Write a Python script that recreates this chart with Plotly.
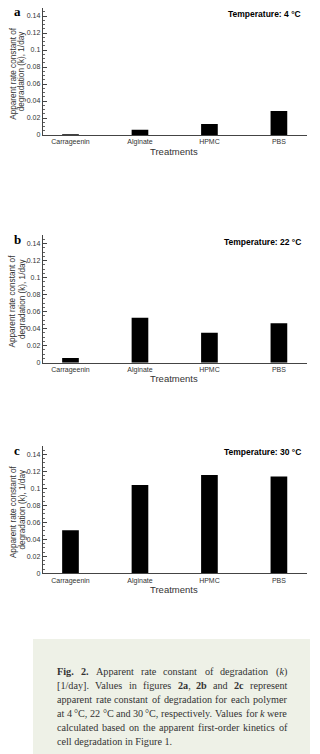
import re
import plotly.graph_objects as go

treatments = ["Carrageenin", "Alginate", "HPMC", "PBS"]
k_4C = [0.001, 0.0062, 0.013, 0.0283]
k_22C = [0.0055, 0.053, 0.0353, 0.0464]
k_30C = [0.0506, 0.1039, 0.1157, 0.114]
panel_letters = ["a", "b", "c"]
temp_labels = ["Temperature: 4 °C", "Temperature: 22 °C", "Temperature: 30 °C"]
y_ticks = [0, 0.02, 0.04, 0.06, 0.08, 0.1, 0.12, 0.14]
y_tick_text = ["0", "0.02", "0.04", "0.06", "0.08", "0.1", "0.12", "0.14"]
y_title_lines = ["Apparent rate constant of", "degradation (k), 1/day"]
caption_lines = [
    "<b>Fig.</b> <b>2.</b> Apparent rate constant of degradation (<i>k</i>)",
    "[1/day]. Values in figures <b>2a</b>, <b>2b</b> and <b>2c</b> represent",
    "apparent rate constant of degradation for each polymer",
    "at 4 °C, 22 °C and 30 °C, respectively. Values for <i>k</i> were",
    "calculated based on the apparent first-order kinetics of",
    "cell degradation in Figure 1.",
]

W, H = 320, 754
def py(y):
    return 1 - y / H
def px(x):
    return x / W

# Times / Liberation Serif advance widths (per 1000 em), used to justify caption lines
TW = {' ': 250, '(': 333, ')': 333, ',': 250, '-': 333, '.': 250, '/': 278, '[': 333, ']': 333,
      '°': 400, 'A': 722, 'C': 667, 'F': 556, 'V': 722, 'a': 444, 'b': 500, 'c': 444, 'd': 500,
      'e': 444, 'f': 333, 'g': 500, 'h': 500, 'i': 278, 'k': 500, 'l': 278, 'm': 778, 'n': 500,
      'o': 500, 'p': 500, 'r': 333, 's': 389, 't': 278, 'u': 500, 'v': 500, 'w': 722, 'y': 500,
      'x': 500}
TB = {'F': 611, 'a': 500, 'b': 556, 'c': 444, 'i': 278, 'g': 500, '.': 250}
TI = {'k': 444}

def word_width(word, size):
    w = 0
    bold = ital = False
    for tok in re.split(r"(<[^>]+>)", word):
        if tok.startswith("<"):
            bold = {"<b>": True, "</b>": False}.get(tok, bold)
            ital = {"<i>": True, "</i>": False}.get(tok, ital)
            continue
        for ch in tok:
            if ch.isdigit():
                w += 500
            elif bold and ch in TB:
                w += TB[ch]
            elif ital and ch in TI:
                w += TI[ch]
            else:
                w += TW.get(ch, 500)
    return w * size / 1000.0

series = [k_4C, k_22C, k_30C]
zero_y = [135.0, 362.7, 573.3]
px_per_unit = 17.0 / 0.02
ymax = 0.15
x0, x1 = 42.7, 306.7

fig = go.Figure()
ann = []
sans = "Liberation Sans, Arial, sans-serif"
serif = "Liberation Serif, Times New Roman, serif"

def add_text(x, y, text, font, xanchor="center", **kw):
    ann.append(dict(x=px(x), y=py(y), xref="paper", yref="paper", text=text, showarrow=False,
                    xanchor=xanchor, yanchor="middle", font=font, **kw))

for i, vals in enumerate(series):
    n = "" if i == 0 else str(i + 1)
    z = zero_y[i]
    top = z - ymax * px_per_unit
    fig.add_trace(go.Bar(x=treatments, y=vals, marker=dict(color="black", line=dict(width=0)),
                         width=0.24, xaxis="x" + n, yaxis="y" + n, showlegend=False,
                         hoverinfo="skip"))
    fig.layout["xaxis" + n] = dict(domain=[px(x0), px(x1)], anchor="y" + n, range=[-0.4, 3.4],
                                    showline=True, linecolor="#444", linewidth=1, ticks="",
                                    tickfont=dict(family=sans, size=7, color="#333"),
                                    showgrid=False, zeroline=False, fixedrange=True,
                                    automargin=False)
    fig.layout["yaxis" + n] = dict(domain=[py(z), py(top)], anchor="x" + n, range=[0, ymax],
                                    showline=True, linecolor="#444", linewidth=1,
                                    ticks="inside", ticklen=4, tickcolor="#444",
                                    tickvals=y_ticks, ticktext=y_tick_text,
                                    minor=dict(ticks="inside", ticklen=2, dtick=0.005, tickcolor="#666"),
                                    tickfont=dict(family=sans, size=7, color="#333"),
                                    showgrid=False, zeroline=False, fixedrange=True,
                                    automargin=False)
    add_text(17, top + 4.5, "<b>" + panel_letters[i] + "</b>", dict(family=serif, size=13, color="black"))
    add_text(303, top + 6.5, "<b>" + temp_labels[i] + "</b>", dict(family=sans, size=8.5, color="black"),
             xanchor="right")
    add_text(174, z + 16, "Treatments", dict(family=sans, size=9.5, color="#333"))
    add_text(12.8, z - 62, y_title_lines[0], dict(family=sans, size=8.2, color="#333"), textangle=-90)
    add_text(22.3, z - 64, y_title_lines[1], dict(family=sans, size=8.2, color="#333"), textangle=-90)

shapes = [dict(type="rect", xref="paper", yref="paper", x0=px(33), x1=px(310), y0=py(754), y1=py(639),
               fillcolor="#eef1e7", line=dict(width=0), layer="below")]
cap_size = 10.2
cap_font = dict(family=serif, size=cap_size, color="#333")
left, right = 57.0, 287.0
for j, line in enumerate(caption_lines):
    yc = 671.7 + 14 * j
    if j == len(caption_lines) - 1:
        add_text(left, yc, line, cap_font, xanchor="left", borderpad=0, borderwidth=0)
        continue
    words = line.split(" ")
    widths = [word_width(w, cap_size) for w in words]
    gap = (right - left - sum(widths)) / (len(words) - 1)
    xpos = left
    for w, wd in zip(words, widths):
        add_text(xpos, yc, w, cap_font, xanchor="left", borderpad=0, borderwidth=0)
        xpos += wd + gap

fig.update_layout(width=W, height=H, margin=dict(l=0, r=0, t=0, b=0), plot_bgcolor="white",
                  paper_bgcolor="white", annotations=ann, shapes=shapes, bargap=0.5)
fig.write_html("out.html", config={"displayModeBar": False, "staticPlot": True},
               post_script="document.body.style.margin='0';document.body.style.overflow='hidden';")
